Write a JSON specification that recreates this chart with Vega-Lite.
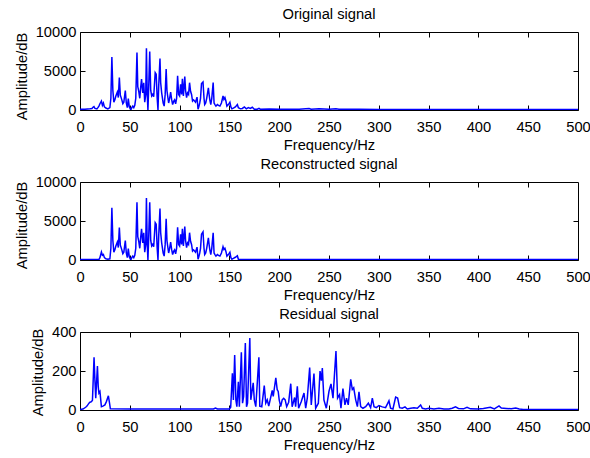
{
  "$schema": "https://vega.github.io/schema/vega-lite/v6.json",
  "padding": {"left": 13, "top": 6, "right": 0, "bottom": 0},
  "background": "white",
  "datasets": {
    "orig": [
      {"f":0,"v":100},{"f":5,"v":100},{"f":10,"v":150},{"f":12,"v":200},{"f":13,"v":350},{"f":14,"v":430},{"f":15,"v":200},{"f":17,"v":150},{"f":18,"v":300},{"f":19,"v":500},{"f":20,"v":800},{"f":21.5,"v":1150},{"f":22.5,"v":600},{"f":23.5,"v":900},{"f":24.5,"v":400},{"f":26,"v":250},{"f":28,"v":150},{"f":30,"v":300},{"f":31,"v":1500},{"f":32,"v":6800},{"f":33,"v":2500},{"f":34,"v":1000},{"f":35,"v":1300},{"f":36,"v":1800},{"f":37.5,"v":2300},{"f":38.5,"v":1600},{"f":39.5,"v":4150},{"f":40.5,"v":1900},{"f":42,"v":1300},{"f":43,"v":800},{"f":44,"v":1000},{"f":45.5,"v":2500},{"f":46.5,"v":900},{"f":47.5,"v":300},{"f":48.5,"v":1450},{"f":49.5,"v":400},{"f":51,"v":0},{"f":52,"v":300},{"f":53,"v":500},{"f":54,"v":300},{"f":55,"v":600},{"f":56,"v":1500},{"f":57.2,"v":7380},{"f":58,"v":3000},{"f":59,"v":2400},{"f":60,"v":1500},{"f":61,"v":3000},{"f":61.8,"v":3950},{"f":63,"v":2200},{"f":64,"v":3500},{"f":65,"v":1000},{"f":66,"v":2000},{"f":66.7,"v":7900},{"f":67.5,"v":2000},{"f":68.2,"v":0},{"f":69,"v":3000},{"f":70,"v":7500},{"f":71,"v":2500},{"f":72,"v":1800},{"f":73,"v":2000},{"f":74,"v":1700},{"f":75.5,"v":4800},{"f":76.5,"v":4600},{"f":77.5,"v":1500},{"f":78.3,"v":0},{"f":79,"v":3000},{"f":80.3,"v":6600},{"f":81,"v":3500},{"f":82,"v":2200},{"f":83.5,"v":900},{"f":84.5,"v":500},{"f":85.5,"v":2000},{"f":86.5,"v":5240},{"f":87.3,"v":2500},{"f":88,"v":1800},{"f":89,"v":900},{"f":90,"v":1500},{"f":91,"v":2300},{"f":92,"v":1350},{"f":93,"v":700},{"f":94,"v":1100},{"f":95,"v":1300},{"f":96,"v":800},{"f":97,"v":1500},{"f":98,"v":4380},{"f":99,"v":2000},{"f":100,"v":1800},{"f":101,"v":3300},{"f":102,"v":2000},{"f":102.8,"v":4000},{"f":103.8,"v":1800},{"f":105.2,"v":4300},{"f":106,"v":2500},{"f":107,"v":1600},{"f":108,"v":2200},{"f":109,"v":2000},{"f":110,"v":3500},{"f":111,"v":2400},{"f":112,"v":2000},{"f":113,"v":1150},{"f":114,"v":1300},{"f":115,"v":1150},{"f":116,"v":1000},{"f":117.5,"v":1650},{"f":118.5,"v":100},{"f":119.3,"v":400},{"f":120.2,"v":900},{"f":121,"v":1500},{"f":122,"v":3400},{"f":123.5,"v":3600},{"f":124.5,"v":1500},{"f":125.2,"v":700},{"f":126.2,"v":900},{"f":127.2,"v":1500},{"f":128.9,"v":2850},{"f":129.8,"v":1800},{"f":130.5,"v":1200},{"f":131.3,"v":700},{"f":132.3,"v":1500},{"f":133.7,"v":3520},{"f":134.6,"v":900},{"f":135.5,"v":700},{"f":136.5,"v":500},{"f":138,"v":700},{"f":139,"v":600},{"f":140.5,"v":500},{"f":142,"v":900},{"f":143.6,"v":1800},{"f":144.5,"v":1350},{"f":145.5,"v":1600},{"f":146.5,"v":1150},{"f":147.5,"v":500},{"f":149,"v":700},{"f":150.5,"v":1000},{"f":151.5,"v":400},{"f":152.5,"v":150},{"f":154,"v":250},{"f":156,"v":400},{"f":158,"v":700},{"f":159,"v":300},{"f":161,"v":150},{"f":163,"v":200},{"f":165,"v":400},{"f":167,"v":150},{"f":169,"v":300},{"f":171,"v":200},{"f":173,"v":350},{"f":175,"v":100},{"f":178,"v":100},{"f":179.7,"v":200},{"f":181,"v":100},{"f":190,"v":120},{"f":200,"v":100},{"f":210,"v":100},{"f":220,"v":100},{"f":230,"v":200},{"f":232,"v":100},{"f":240,"v":150},{"f":250,"v":100},{"f":257,"v":150},{"f":260,"v":100},{"f":280,"v":100},{"f":300,"v":80},{"f":500,"v":80}
    ],
    "recon": [
      {"f":0,"v":60},{"f":19,"v":60},{"f":20,"v":300},{"f":21.5,"v":1030},{"f":22.5,"v":600},{"f":23.5,"v":700},{"f":24.5,"v":300},{"f":26,"v":150},{"f":28,"v":100},{"f":30,"v":150},{"f":31,"v":1500},{"f":32,"v":6700},{"f":33,"v":2500},{"f":34,"v":1000},{"f":35,"v":1300},{"f":36,"v":1800},{"f":37.5,"v":2300},{"f":38.5,"v":1600},{"f":39.5,"v":4150},{"f":40.5,"v":1900},{"f":42,"v":1300},{"f":43,"v":800},{"f":44,"v":1000},{"f":45.5,"v":2500},{"f":46.5,"v":900},{"f":47.5,"v":300},{"f":48.5,"v":1450},{"f":49.5,"v":400},{"f":51,"v":0},{"f":52,"v":300},{"f":53,"v":500},{"f":54,"v":300},{"f":55,"v":600},{"f":56,"v":1500},{"f":57.2,"v":7400},{"f":58,"v":3000},{"f":59,"v":2400},{"f":60,"v":1500},{"f":61,"v":3000},{"f":61.8,"v":4000},{"f":63,"v":2200},{"f":64,"v":3500},{"f":65,"v":1000},{"f":66,"v":2000},{"f":66.7,"v":7950},{"f":67.5,"v":2000},{"f":68.2,"v":0},{"f":69,"v":3000},{"f":70,"v":7400},{"f":71,"v":2500},{"f":72,"v":1800},{"f":73,"v":2000},{"f":74,"v":1700},{"f":75.5,"v":4800},{"f":76.5,"v":4600},{"f":77.5,"v":1500},{"f":78.3,"v":0},{"f":79,"v":3000},{"f":80.3,"v":6600},{"f":81,"v":3500},{"f":82,"v":2200},{"f":83.5,"v":900},{"f":84.5,"v":500},{"f":85.5,"v":2000},{"f":86.5,"v":5300},{"f":87.3,"v":2500},{"f":88,"v":1800},{"f":89,"v":900},{"f":90,"v":1500},{"f":91,"v":2300},{"f":92,"v":1350},{"f":93,"v":700},{"f":94,"v":1100},{"f":95,"v":1300},{"f":96,"v":800},{"f":97,"v":1500},{"f":98,"v":4200},{"f":99,"v":2000},{"f":100,"v":1800},{"f":101,"v":3300},{"f":102,"v":2000},{"f":102.8,"v":4000},{"f":103.8,"v":1800},{"f":105.2,"v":4300},{"f":106,"v":2500},{"f":107,"v":1600},{"f":108,"v":2200},{"f":109,"v":2000},{"f":110,"v":3500},{"f":111,"v":2400},{"f":112,"v":2000},{"f":113,"v":1150},{"f":114,"v":1300},{"f":115,"v":1150},{"f":116,"v":1000},{"f":117.5,"v":1650},{"f":118.5,"v":100},{"f":119.3,"v":400},{"f":120.2,"v":900},{"f":121,"v":1500},{"f":122,"v":3300},{"f":123.5,"v":3600},{"f":124.5,"v":1500},{"f":125.2,"v":700},{"f":126.2,"v":900},{"f":127.2,"v":1500},{"f":128.9,"v":2850},{"f":129.8,"v":1800},{"f":130.5,"v":1200},{"f":131.3,"v":700},{"f":132.3,"v":1500},{"f":133.7,"v":3500},{"f":134.6,"v":900},{"f":135.5,"v":700},{"f":136.5,"v":500},{"f":138,"v":700},{"f":139,"v":600},{"f":140.5,"v":500},{"f":142,"v":900},{"f":143.6,"v":1700},{"f":144.5,"v":1350},{"f":145.5,"v":1500},{"f":146.5,"v":1100},{"f":147.5,"v":500},{"f":149,"v":700},{"f":150.5,"v":1000},{"f":151.5,"v":300},{"f":152.5,"v":100},{"f":154,"v":200},{"f":156,"v":350},{"f":158,"v":550},{"f":159,"v":100},{"f":161,"v":60},{"f":500,"v":60}
    ],
    "resid": [
      {"f":0,"v":3},{"f":3,"v":5},{"f":5.7,"v":14},{"f":7,"v":20},{"f":9,"v":35},{"f":10,"v":40},{"f":11.5,"v":43},{"f":12.5,"v":50},{"f":14.1,"v":270},{"f":15,"v":150},{"f":15.8,"v":60},{"f":17.5,"v":226},{"f":18.3,"v":120},{"f":19,"v":87},{"f":20,"v":95},{"f":21.5,"v":17},{"f":23,"v":20},{"f":25,"v":26},{"f":26.5,"v":43},{"f":28.5,"v":73},{"f":29.5,"v":40},{"f":30.5,"v":6},{"f":50,"v":5},{"f":100,"v":5},{"f":134,"v":5},{"f":136,"v":10},{"f":138,"v":5},{"f":150,"v":5},{"f":151.3,"v":14},{"f":153,"v":188},{"f":154,"v":52},{"f":155.3,"v":282},{"f":156.5,"v":52},{"f":157.5,"v":17},{"f":159,"v":145},{"f":160,"v":17},{"f":162,"v":296},{"f":163.2,"v":35},{"f":164.3,"v":70},{"f":166,"v":344},{"f":167.2,"v":17},{"f":168.2,"v":35},{"f":170.5,"v":369},{"f":171.5,"v":52},{"f":173.9,"v":139},{"f":175,"v":52},{"f":176.5,"v":17},{"f":179.6,"v":270},{"f":180.5,"v":20},{"f":182.5,"v":17},{"f":185,"v":125},{"f":186.5,"v":35},{"f":188,"v":52},{"f":189.5,"v":20},{"f":193,"v":100},{"f":194,"v":70},{"f":196.6,"v":165},{"f":198,"v":104},{"f":199,"v":95},{"f":200,"v":52},{"f":201.5,"v":17},{"f":203,"v":52},{"f":204.5,"v":60},{"f":206,"v":52},{"f":207.5,"v":17},{"f":209.5,"v":40},{"f":211.6,"v":135},{"f":213,"v":17},{"f":215.5,"v":64},{"f":216.5,"v":17},{"f":218.2,"v":122},{"f":219.5,"v":9},{"f":222.2,"v":44},{"f":224.9,"v":87},{"f":226.6,"v":9},{"f":228.2,"v":61},{"f":230.6,"v":218},{"f":232.2,"v":26},{"f":234.9,"v":187},{"f":236.6,"v":9},{"f":239.3,"v":35},{"f":241,"v":200},{"f":242.3,"v":150},{"f":243.3,"v":215},{"f":244.9,"v":52},{"f":247.3,"v":9},{"f":250,"v":96},{"f":252,"v":134},{"f":254,"v":61},{"f":255.3,"v":166},{"f":257,"v":302},{"f":258.6,"v":61},{"f":260.6,"v":79},{"f":262,"v":9},{"f":264,"v":110},{"f":266,"v":26},{"f":267.6,"v":61},{"f":269.3,"v":26},{"f":271.8,"v":157},{"f":273.4,"v":105},{"f":274.8,"v":114},{"f":276.8,"v":52},{"f":278.5,"v":17},{"f":280.1,"v":93},{"f":281.8,"v":17},{"f":284.1,"v":9},{"f":286.8,"v":17},{"f":289.5,"v":35},{"f":291.8,"v":12},{"f":293.5,"v":61},{"f":295.2,"v":17},{"f":297.5,"v":12},{"f":300.1,"v":23},{"f":303.5,"v":16},{"f":306.8,"v":12},{"f":310.2,"v":47},{"f":311.8,"v":9},{"f":314.2,"v":5},{"f":316.9,"v":66},{"f":318.9,"v":61},{"f":320.9,"v":12},{"f":323.6,"v":9},{"f":326.3,"v":16},{"f":328.6,"v":5},{"f":332,"v":9},{"f":335.3,"v":12},{"f":338.7,"v":9},{"f":342,"v":26},{"f":343.7,"v":9},{"f":347,"v":5},{"f":350.4,"v":9},{"f":355.4,"v":5},{"f":360.4,"v":9},{"f":365.4,"v":5},{"f":370.4,"v":5},{"f":373.7,"v":9},{"f":377,"v":16},{"f":380,"v":8},{"f":385,"v":6},{"f":388.6,"v":14},{"f":392,"v":6},{"f":400,"v":5},{"f":405,"v":8},{"f":412,"v":14},{"f":416,"v":6},{"f":420.7,"v":21},{"f":423,"v":10},{"f":428,"v":8},{"f":433,"v":6},{"f":437.5,"v":10},{"f":441,"v":5},{"f":445,"v":3},{"f":500,"v":3}
    ]
  },
  "config": {
    "font": "Liberation Sans",
    "view": {"stroke": "black", "strokeWidth": 1},
    "axis": {
      "grid": false, "domain": false, "tickColor": "black", "tickSize": -5, "tickWidth": 1,
      "labelColor": "black", "titleColor": "black", "labelFlush": false,
      "labelFont": "Liberation Sans", "titleFont": "Liberation Sans",
      "labelFontSize": 14.7, "titleFontSize": 14.7, "titleFontWeight": "normal"
    },
    "axisX": {"labelPadding": 14, "titlePadding": 4},
    "axisY": {"labelPadding": 9, "titlePadding": 6},
    "title": {"fontSize": 14.7, "fontWeight": "normal", "font": "Liberation Sans", "color": "black", "offset": 2},
    "concat": {"spacing": 3}
  },
  "vconcat": [
    {
      "width": 498, "height": 78,
      "title": "Original signal",
      "data": {"name": "orig"},
      "layer": [
        {"mark": {"type": "line", "color": "#0000ff", "strokeWidth": 1.5, "clip": true},
         "encoding": {
           "x": {"field": "f", "type": "quantitative", "scale": {"domain": [0, 500], "nice": false}, "axis": {"values": [0,50,100,150,200,250,300,350,400,450,500], "title": "Frequency/Hz"}},
           "y": {"field": "v", "type": "quantitative", "scale": {"domain": [0, 10000], "nice": false}, "axis": {"values": [0,5000,10000], "title": "Amplitude/dB", "format": "d", "titleY": 44}}
         }},
        {"mark": {"type": "line", "opacity": 0},
         "encoding": {
           "x": {"field": "f", "type": "quantitative", "axis": {"orient": "top", "values": [50,100,150,200,250,300,350,400,450], "labels": false, "title": null}},
           "y": {"field": "v", "type": "quantitative", "axis": {"orient": "right", "values": [5000], "labels": false, "title": null}}
         }}
      ],
      "resolve": {"axis": {"x": "independent", "y": "independent"}}
    },
    {
      "width": 498, "height": 78,
      "title": "Reconstructed signal",
      "data": {"name": "recon"},
      "layer": [
        {"mark": {"type": "line", "color": "#0000ff", "strokeWidth": 1.5, "clip": true},
         "encoding": {
           "x": {"field": "f", "type": "quantitative", "scale": {"domain": [0, 500], "nice": false}, "axis": {"values": [0,50,100,150,200,250,300,350,400,450,500], "title": "Frequency/Hz"}},
           "y": {"field": "v", "type": "quantitative", "scale": {"domain": [0, 10000], "nice": false}, "axis": {"values": [0,5000,10000], "title": "Amplitude/dB", "format": "d", "titleY": 43}}
         }},
        {"mark": {"type": "line", "opacity": 0},
         "encoding": {
           "x": {"field": "f", "type": "quantitative", "axis": {"orient": "top", "values": [50,100,150,200,250,300,350,400,450], "labels": false, "title": null}},
           "y": {"field": "v", "type": "quantitative", "axis": {"orient": "right", "values": [5000], "labels": false, "title": null}}
         }}
      ],
      "resolve": {"axis": {"x": "independent", "y": "independent"}}
    },
    {
      "width": 498, "height": 78,
      "title": "Residual signal",
      "data": {"name": "resid"},
      "layer": [
        {"mark": {"type": "line", "color": "#0000ff", "strokeWidth": 1.5, "clip": true},
         "encoding": {
           "x": {"field": "f", "type": "quantitative", "scale": {"domain": [0, 500], "nice": false}, "axis": {"values": [0,50,100,150,200,250,300,350,400,450,500], "title": "Frequency/Hz"}},
           "y": {"field": "v", "type": "quantitative", "scale": {"domain": [0, 400], "nice": false}, "axis": {"values": [0,200,400], "title": "Amplitude/dB", "format": "d", "titleY": 40}}
         }},
        {"mark": {"type": "line", "opacity": 0},
         "encoding": {
           "x": {"field": "f", "type": "quantitative", "axis": {"orient": "top", "values": [50,100,150,200,250,300,350,400,450], "labels": false, "title": null}},
           "y": {"field": "v", "type": "quantitative", "axis": {"orient": "right", "values": [200], "labels": false, "title": null}}
         }}
      ],
      "resolve": {"axis": {"x": "independent", "y": "independent"}}
    }
  ]
}
